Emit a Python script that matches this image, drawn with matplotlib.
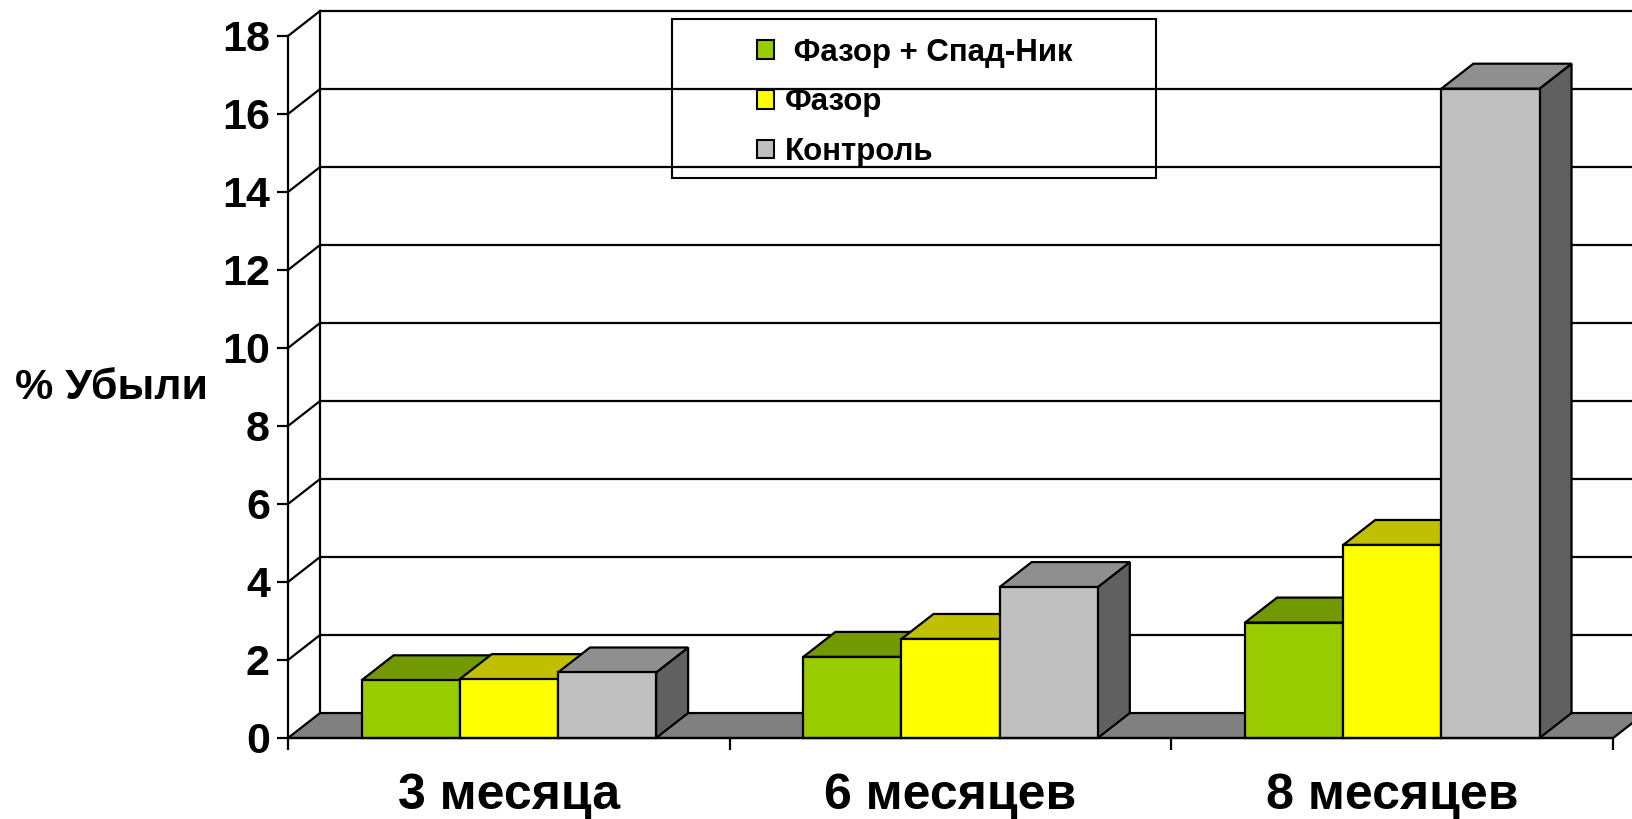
import matplotlib.pyplot as plt
from matplotlib.patches import Polygon, Rectangle, Patch

# data
cats = ['3 месяца', '6 месяцев', '8 месяцев']
series = [' Фазор + Спад-Ник', 'Фазор', 'Контроль']
combo = [1.48, 2.08, 2.96]
fazor = [1.51, 2.54, 4.95]
control = [1.68, 3.87, 16.65]
yticks = list(range(0, 19, 2))

values = [combo, fazor, control]
front_c = ['#99CC00', '#FFFF00', '#C0C0C0']
top_c = ['#739900', '#C0C000', '#8F8F8F']
side_c = ['#5C7A00', '#999900', '#606060']

# fake 3D depth, in data units
DX = 0.0725
DY = 0.64
gap = 1 / 6
w = 2 / 9

plt.rcParams['font.family'] = ['Liberation Sans', 'DejaVu Sans']
plt.rcParams['font.weight'] = 'bold'

fig = plt.figure(figsize=(16.33, 8.19), dpi=100)
ax = fig.add_axes([0, 0, 1, 1])
ax.set_xlim(-0.652, 3.045)
ax.set_ylim(-2.077, 18.923)
ax.patch.set_visible(False)

lw = 1.6
# back wall + side wall lines
ax.plot([DX, DX], [DY, 18 + DY], color='black', lw=lw, zorder=1)
ax.hlines([v + DY for v in yticks[1:]], DX, 3 + DX, color='black', lw=lw, zorder=1)
for v in yticks[1:]:
    ax.plot([0, DX], [v, v + DY], color='black', lw=lw, zorder=1)

# floor
ax.add_patch(Polygon([(0, 0), (3, 0), (3 + DX, DY), (DX, DY)], closed=True,
                     fc='#808080', ec='black', lw=lw, zorder=2))

z = 3
for i in range(len(cats)):
    for j in range(len(series)):
        v = values[j][i]
        x0 = i + gap + j * w
        ax.add_patch(Polygon([(x0 + w, 0), (x0 + w + DX, DY), (x0 + w + DX, v + DY), (x0 + w, v)],
                             closed=True, fc=side_c[j], ec='black', lw=lw, zorder=z))
        ax.add_patch(Polygon([(x0, v), (x0 + w, v), (x0 + w + DX, v + DY), (x0 + DX, v + DY)],
                             closed=True, fc=top_c[j], ec='black', lw=lw, zorder=z))
        ax.add_patch(Rectangle((x0, 0), w, v, fc=front_c[j], ec='black', lw=lw, zorder=z + 0.5))
        z += 1

# axes
for s in ['top', 'right']:
    ax.spines[s].set_visible(False)
ax.spines['left'].set_position(('data', 0))
ax.spines['left'].set_bounds(0, 18)
ax.spines['bottom'].set_position(('data', 0))
ax.spines['bottom'].set_bounds(0, 3)
ax.spines['left'].set_linewidth(lw)
ax.spines['bottom'].set_linewidth(lw)
ax.spines['bottom'].set_zorder(20)

ax.set_yticks(yticks)
ax.set_yticklabels([str(v) for v in yticks])
ax.tick_params(axis='y', length=8, width=lw, pad=5, labelsize=31)
ax.set_xticks([0, 1, 2, 3])
ax.set_xticklabels([])
ax.tick_params(axis='x', which='major', length=8.6, width=lw)
ax.set_xticks([0.5, 1.5, 2.5], minor=True)
ax.set_xticklabels(cats, minor=True)
ax.tick_params(axis='x', which='minor', length=0, pad=25, labelsize=36)

ax.set_ylabel('% Убыли', rotation=0, fontsize=31, fontweight='bold', ha='center', va='center')
ax.yaxis.set_label_coords(-0.40, 8.97, transform=ax.transData)

# legend
handles = [Patch(fc=front_c[j], ec='black', lw=1.5) for j in range(3)]
leg = ax.legend(handles, series, loc='upper left', frameon=False,
                bbox_to_anchor=(741 / 1633, 1 - 22 / 819), bbox_transform=fig.transFigure,
                borderpad=0, handlelength=0.55, handleheight=0.55, handletextpad=0.35,
                labelspacing=0.63, prop={'weight': 'bold', 'size': 22.5})
fig.add_artist(Rectangle((672 / 1633, 1 - 178 / 819), 484 / 1633, 159 / 819,
                         transform=fig.transFigure, fill=False, ec='black', lw=1.5))

fig.savefig('out.png', dpi=100)
